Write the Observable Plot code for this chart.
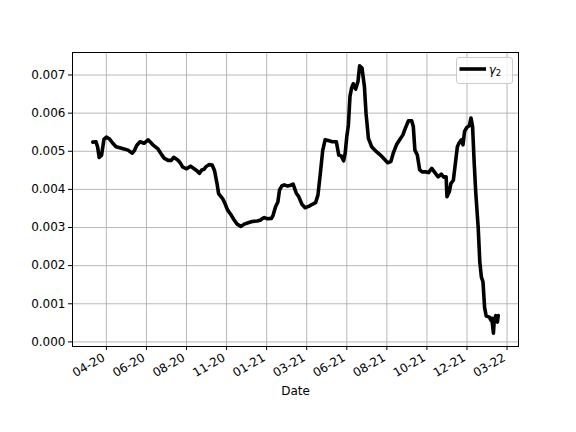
<!DOCTYPE html>
<html>
<head>
<meta charset="utf-8">
<script src="https://cdn.jsdelivr.net/npm/d3@7"></script>
<script src="https://cdn.jsdelivr.net/npm/@observablehq/plot@0.6"></script>
<style>
  html, body { margin: 0; padding: 0; background: white; }
  #chart { position: relative; width: 576px; height: 432px; }
  #chart svg text { font-family: 'DejaVu Sans', sans-serif; font-size: 12px; fill: black; }
</style>
</head>
<body>
<div id="chart"></div>
<script>
// Tick positions (observation index) and their date labels
const tickIdx = [50, 100, 150, 200, 250, 300, 350, 400, 450, 500, 550];
const tickLabels = ["04-20", "06-20", "08-20", "11-20", "01-21", "03-21", "06-21", "08-21", "10-21", "12-21", "03-22"];
const yTicks = [0, 0.001, 0.002, 0.003, 0.004, 0.005, 0.006, 0.007];
const seriesName = "γ";
const seriesSub = "2";

// Observation index
const idx = [33, 37, 39, 41, 44, 47, 50, 54, 58, 62, 70, 77, 82, 85, 88, 92, 97, 102, 108, 114,
  118, 122, 127, 131, 134, 139, 142, 145, 150, 155, 159, 163, 166, 169, 172, 174, 178, 182, 185, 188,
  190, 195, 198, 201, 205, 209, 213, 218, 222, 226, 232, 238, 242, 245, 247, 251, 256, 258, 261, 264,
  266, 269, 272, 276, 280, 283, 287, 290, 294, 298, 303, 307, 311, 314, 317, 320, 323, 327, 332, 337,
  340, 343, 346, 348, 350, 352, 354, 356, 358, 361, 364, 366, 369, 372, 374, 377, 381, 387, 392, 397,
  401, 405, 408, 412, 416, 420, 423, 427, 431, 433, 435, 438, 441, 444, 448, 452, 456, 460, 464, 468,
  471, 474, 475, 478, 480, 483, 485, 488, 490, 493, 495, 497, 500, 503, 505, 507, 509, 511, 514, 516,
  518, 520, 522, 524, 528, 530, 531, 533, 534, 536, 538, 539];
// gamma_2 values
const gamma2 = [0.00524, 0.00525, 0.00512, 0.00484, 0.00490, 0.00532, 0.00537, 0.00532, 0.00521, 0.00512,
  0.00507, 0.00503, 0.00495, 0.00502, 0.00516, 0.00525, 0.00521, 0.00530, 0.00517, 0.00507,
  0.00494, 0.00482, 0.00476, 0.00476, 0.00484, 0.00477, 0.00470, 0.00459, 0.00454, 0.00461,
  0.00455, 0.00449, 0.00442, 0.00451, 0.00453, 0.00459, 0.00465, 0.00464, 0.00449, 0.00416,
  0.00389, 0.00376, 0.00363, 0.00347, 0.00335, 0.00321, 0.00309, 0.00303, 0.00309, 0.00312,
  0.00316, 0.00317, 0.00319, 0.00324, 0.00326, 0.00323, 0.00324, 0.00332, 0.00354, 0.00367,
  0.00398, 0.00409, 0.00412, 0.00409, 0.00411, 0.00414, 0.00390, 0.00381, 0.00361, 0.00352,
  0.00356, 0.00361, 0.00365, 0.00385, 0.00442, 0.00503, 0.00530, 0.00528, 0.00525, 0.00525,
  0.00490, 0.00488, 0.00475, 0.00495, 0.00538, 0.00569, 0.00644, 0.00666, 0.00677, 0.00663,
  0.00683, 0.00724, 0.00718, 0.00670, 0.00600, 0.00534, 0.00512, 0.00499, 0.00490, 0.00479,
  0.00470, 0.00473, 0.00495, 0.00517, 0.00530, 0.00543, 0.00560, 0.00580, 0.00580, 0.00565,
  0.00503, 0.00490, 0.00451, 0.00446, 0.00446, 0.00444, 0.00455, 0.00444, 0.00433, 0.00440,
  0.00432, 0.00433, 0.00381, 0.00394, 0.00416, 0.00424, 0.00459, 0.00512, 0.00521, 0.00530,
  0.00517, 0.00552, 0.00563, 0.00567, 0.00587, 0.00565, 0.00470, 0.00390, 0.00300, 0.00210,
  0.00170, 0.00157, 0.00090, 0.00068, 0.00065, 0.00056, 0.00062, 0.00023, 0.00056, 0.00069,
  0.00052, 0.00069];

const data = idx.map((i, k) => ({i, v: gamma2[k]}));

function padded(arr) {
  const lo = d3.min(arr), hi = d3.max(arr), r = hi - lo;
  return [lo - 0.05 * r, hi + 0.05 * r];
}

const gridStyle = {stroke: "#b0b0b0", strokeOpacity: 1, strokeWidth: 0.9};

const plot = Plot.plot({
  width: 576,
  height: 432,
  marginLeft: 72,
  marginRight: 58,
  marginTop: 52,
  marginBottom: 86,
  style: {fontFamily: "'DejaVu Sans', sans-serif", fontSize: "12px", color: "black", background: "white"},
  x: {type: "linear", domain: padded(idx)},
  y: {domain: padded(gamma2)},
  marks: [
    Plot.gridX({ticks: tickIdx, ...gridStyle}),
    Plot.gridY({ticks: yTicks, ...gridStyle}),
    Plot.line(data, {x: "i", y: "v", stroke: "black", strokeWidth: 3.6}),
    Plot.frame({stroke: "black", strokeWidth: 1}),
    Plot.axisY({ticks: yTicks, tickFormat: d3.format(".3f"), tickSize: 4, tickPadding: 3, fontSize: 12, label: null}),
    Plot.axisX({ticks: tickIdx, tickSize: 4, tickFormat: () => "", label: null}),
    Plot.axisX({ticks: tickIdx, tickFormat: d => tickLabels[tickIdx.indexOf(d)], tickRotate: -30,
      tickSize: 0, tickPadding: 10, dx: -2.5, fontSize: 12, label: null}),
    Plot.axisX({ticks: [], tickSize: 0, label: "Date", labelAnchor: "center", labelArrow: "none",
      labelOffset: 48, fontSize: 12})
  ]
});

// legend (matplotlib-style box, upper right)
const svg = d3.select(plot);
const lg = svg.append("g").attr("transform", "translate(456.5,57.5)");
lg.append("rect").attr("width", 56).attr("height", 26).attr("rx", 2.5)
  .attr("fill", "white").attr("fill-opacity", 0.8).attr("stroke", "#cccccc").attr("stroke-width", 1);
lg.append("line").attr("x1", 3).attr("x2", 29.5).attr("y1", 11.5).attr("y2", 11.5)
  .attr("stroke", "black").attr("stroke-width", 3.6);
const t = lg.append("text").attr("x", 38.5).attr("y", 16).attr("style", "font-size:12px");
t.append("tspan").attr("style", "font-style:italic;font-size:12px").text(seriesName);
t.append("tspan").attr("style", "font-size:8.5px").attr("dy", 2).text(seriesSub);

document.getElementById("chart").appendChild(plot);
</script>
</body>
</html>
